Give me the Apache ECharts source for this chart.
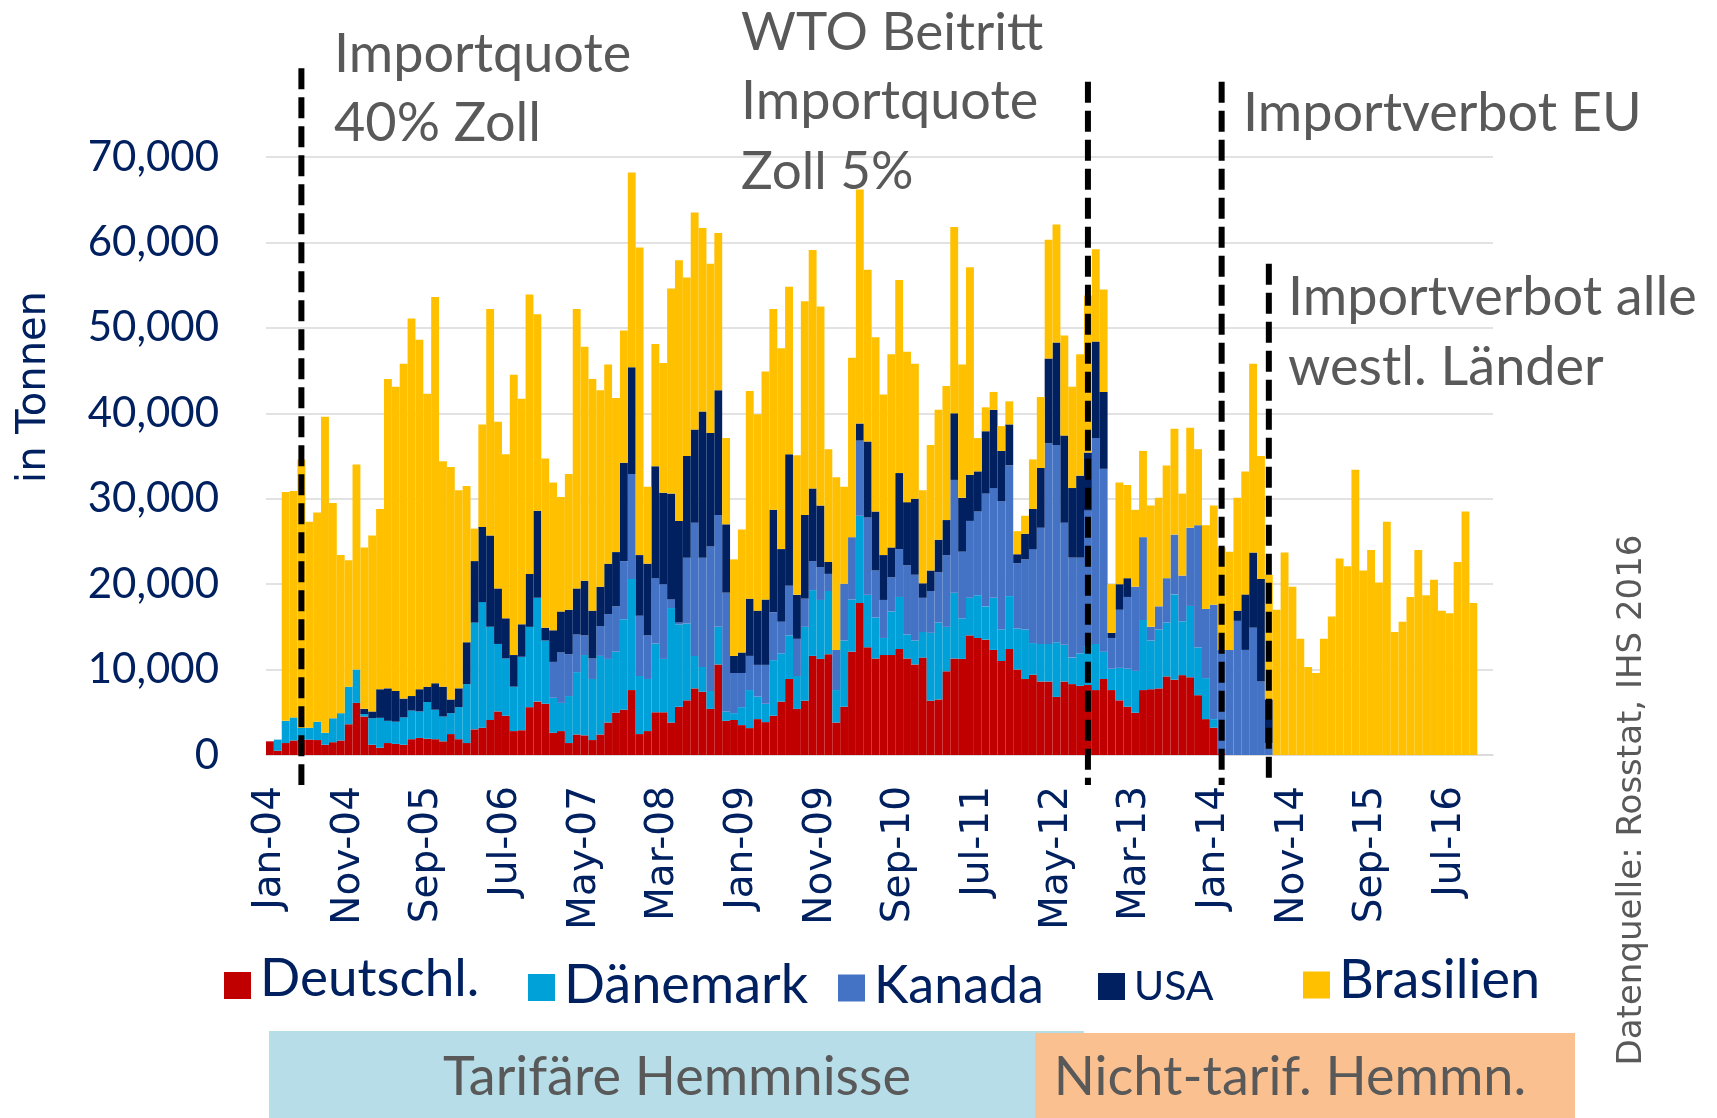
<!DOCTYPE html>
<html><head><meta charset="utf-8">
<script src="https://cdn.jsdelivr.net/npm/echarts@6/dist/echarts.min.js"></script>
<style>html,body{margin:0;padding:0;background:#fff}#c{width:1717px;height:1118px}</style>
</head><body><div id="c"></div>
<script>
// ---------- categories ----------
const MONTHS = ['Jan','Feb','Mar','Apr','May','Jun','Jul','Aug','Sep','Oct','Nov','Dec'];
const YEARS = ['04','05','06','07','08','09','10','11','12','13','14','15','16'];
const CATEGORIES = [];
YEARS.forEach(y => MONTHS.forEach(m => CATEGORIES.push(m + '-' + y)));

// ---------- series values (tonnes) ----------
const DEUTSCHL = [
1600,500,1400,1700,1800,1800,1750,1200,1500,1700,
3600,6100,4500,1200,850,1400,1300,1200,1850,2000,
1900,1850,1600,2450,1850,1400,3000,3200,4100,5100,
4600,2800,2900,5600,6250,6000,2600,2800,1400,2400,
2300,1750,2400,3800,4950,5300,7600,2450,2800,5000,
5000,3800,5650,6400,7800,7400,5400,10600,4000,4100,
3500,3150,4200,3850,4600,6250,8900,5400,6350,11600,
11250,11800,3800,5650,12100,17800,12600,11300,11700,11700,
12400,11300,10600,11400,6350,6500,9800,11300,11250,14000,
13700,13500,12300,11000,12400,10000,8900,9400,8600,8600,
6800,8600,8300,8100,8200,7600,8900,7600,6400,5650,
4950,7600,7700,7800,9200,8800,9350,9100,7000,4200,
3200,200,0,0,0,0,0,0,0,0,
0,0,0,0,0,0,0,0,0,0,
0,0,0,0,0,0,0,0,0,0,
0,0,0,0,null,null];

const DAENEMARK = [
0,1300,2600,2700,1400,1400,2150,1400,2800,3200,
4400,3900,300,3100,3500,2600,2600,3200,3350,3100,
4300,3450,2900,2450,3750,6900,12500,14700,10900,7900,
6700,5200,8600,9400,12150,7400,4100,3300,5500,7300,
9400,7150,9200,7450,7150,10600,13000,6800,6100,8050,
6250,13400,9650,9000,3800,2900,2100,4400,1100,800,
2100,4450,2650,2150,6500,5650,5100,3850,8650,7700,
6900,7400,3800,7750,6100,10200,6150,4800,2000,5100,
6100,2800,2800,3000,7950,9000,5200,7700,4750,4400,
5000,3900,6100,3700,6200,4800,5800,3700,4400,4400,
6400,4300,3100,3800,4500,5400,3200,2500,3800,4450,
4900,8200,5700,6900,6300,10000,6300,8350,5600,4800,
1000,0,0,0,0,0,0,0,0,0,
0,0,0,0,0,0,0,0,0,0,
0,0,0,0,0,0,0,0,0,0,
0,0,0,0,null,null];

const KANADA = [
0,0,0,0,0,0,0,0,0,0,
0,0,0,0,0,0,0,0,0,0,
0,0,0,0,0,0,0,0,0,0,
0,0,0,0,0,0,4200,5900,4900,4400,
2300,2400,3500,5250,5300,6800,12300,7050,5100,7650,
8750,1000,200,7700,15600,12800,16900,13100,13900,4700,
4000,4000,3700,4550,5600,3700,5800,4350,3300,3400,
3850,2000,4700,6650,7300,8800,9050,5500,4450,4000,
5600,8100,7700,4000,4900,5900,8400,13200,7800,9000,
9800,13200,12850,15000,15300,7650,8200,11000,13600,23500,
23100,14300,11700,11200,15900,24100,21400,3600,6800,8400,
9850,9700,1600,2700,5200,7000,5350,9150,14300,8100,
13400,12100,12300,15700,12300,14900,8600,1400,0,0,
0,0,0,0,0,0,0,0,0,0,
0,0,0,0,0,0,0,0,0,0,
0,0,0,0,null,null];

const USA = [
0,0,0,0,0,0,0,0,0,0,
0,0,600,800,3350,3800,3600,2200,1700,2600,
1800,3100,3500,1600,2200,4900,7200,8800,10700,6500,
4700,3700,3800,6200,10200,1500,3700,4800,5200,5400,
6400,5600,4600,5900,6350,11500,12500,7100,8400,13100,
10700,12400,11900,11900,10900,17100,13300,14600,8000,2000,
2400,6700,6350,7650,12000,8500,15400,5150,9800,8500,
7200,1400,0,0,0,2000,8900,6900,5250,3500,
8900,7400,8900,1700,2400,3800,4100,7800,6300,5400,
4700,7300,9150,5900,4800,1050,3000,4700,7000,9900,
12000,10200,8150,9600,6800,11300,9000,600,3000,2200,
0,0,0,0,0,0,0,0,0,0,
0,0,0,1200,6500,8800,12000,5100,0,0,
0,0,0,0,0,0,0,0,0,0,
0,0,0,0,0,0,0,0,0,0,
0,0,0,0,null,null];

const BRASILIEN = [
0,0,26800,26500,31400,24100,24500,37000,25200,18500,
14800,24000,18900,20600,21100,36200,35600,39200,44200,40900,
34300,45200,26400,27200,23200,18300,3800,12000,26500,19500,
19200,32800,26400,32700,23000,19800,17300,13400,15900,32700,
27400,27100,23000,23300,18050,15500,22800,36000,9000,14300,
15200,24000,30500,20900,25400,21500,19800,18400,10100,11300,
14400,24300,23000,26700,23500,23500,19600,16350,25000,27900,
23300,13200,20200,11350,21000,27400,20100,20400,18800,22600,
22600,17600,15800,10900,14700,15200,15700,21800,15600,24300,
3900,2800,2100,2900,2700,2700,2100,5800,8300,13900,
13800,11700,11850,14200,18400,10800,12000,5700,11900,10900,
9000,10100,14200,12700,13200,12400,9600,11700,8900,9800,
11600,12000,11500,13200,14400,22100,14400,14600,17000,23700,
19700,13600,10300,9600,13600,16200,23000,22100,33400,21600,
24000,20200,27300,14400,15600,18500,24000,18700,20500,16900,
16600,22600,28500,17800,null,null];

const SERIES_NAMES = ['Deutschl.','Dänemark','Kanada','USA','Brasilien'];
const SERIES_DATA = [DEUTSCHL, DAENEMARK, KANADA, USA, BRASILIEN];
const SERIES_COLORS = ['#C00000','#00A0D8','#4472C4','#002060','#FFC000'];

const Y_TICKS = [0,10000,20000,30000,40000,50000,60000,70000];

// event lines: category, top value, bottom value
const EVENT_CATS = ['May-04','Sep-12','Feb-14','Aug-14'];
const EVENT_TOPS = [80400, 78800, 78800, 57500];
const EVENT_BOTTOM = -3500;

// ---------- chart ----------
const CAL = 'Lato, "Open Sans", sans-serif';
const VER = '"DejaVu Sans", Verdana, sans-serif';
const NAVY = '#002060', GRAY = '#595959';

const chart = echarts.init(document.getElementById('c'), null, {renderer: 'canvas'});

const LEG_LEFT = [219, 523, 833, 1093, 1298];
const LEG_TOP = [947, 954, 955, 961, 949];
const LEG_SIZE = [53, 54, 52, 41, 54];
const LEG_PAD = [[0,0,14,4],[0,0,3,4],[0,0,4,4],[0,0,0,4],[0,0,8,4]];

const option = {
  animation: false,
  backgroundColor: '#fff',
  grid: {left: 266, right: 224, top: 157, bottom: 363},
  xAxis: {
    type: 'category', data: CATEGORIES, boundaryGap: true,
    axisLine: {show: true, lineStyle: {color: '#D9D9D9', width: 1.5}},
    axisTick: {show: false},
    axisLabel: {interval: 9, rotate: 90, margin: 31, fontFamily: VER, fontSize: 39, color: NAVY}
  },
  yAxis: {
    type: 'value', min: Y_TICKS[0], max: Y_TICKS[Y_TICKS.length - 1], interval: 10000,
    axisLine: {show: false}, axisTick: {show: false},
    splitLine: {lineStyle: {color: '#D9D9D9', width: 1.5}},
    axisLabel: {margin: 47, fontFamily: CAL, fontSize: 42, color: NAVY,
      formatter: v => String(v).replace(/\B(?=(\d{3})+(?!\d))/g, ',')}
  },
  legend: SERIES_NAMES.map((n, i) => ({
    data: [n], left: LEG_LEFT[i], top: LEG_TOP[i], icon: 'rect', itemWidth: 27, itemHeight: 27,
    selectedMode: false,
    formatter: name => '{t|' + name + '}',
    textStyle: {fontFamily: CAL, fontSize: LEG_SIZE[i], color: NAVY,
      rich: {t: {fontFamily: CAL, fontSize: LEG_SIZE[i], color: NAVY, padding: LEG_PAD[i]}}}
  })),
  series: SERIES_NAMES.map((n, i) => ({
    name: n, type: 'bar', stack: 'total', data: SERIES_DATA[i],
    barCategoryGap: '0%', itemStyle: {color: SERIES_COLORS[i]},
    emphasis: {disabled: true}
  }))
};
chart.setOption(option);

// ---------- annotations ----------
const graphics = [];
graphics.push({type: 'rect', shape: {x: 269, y: 1031, width: 815, height: 90}, style: {fill: '#B7DDE8'}, z: 1});
graphics.push({type: 'rect', shape: {x: 1035, y: 1033, width: 540, height: 90}, style: {fill: '#FAC090'}, z: 2});

function txt(t, x, y, size, color, family, align, rot) {
  graphics.push({type: 'text', x: x, y: y, rotation: rot || 0, z: 10,
    style: {text: t, fill: color, fontSize: size, fontFamily: family,
      textAlign: align || 'left', align: align || 'left',
      textVerticalAlign: 'middle', verticalAlign: 'middle'}});
}
txt('Tarifäre Hemmnisse', 677, 1078, 54, GRAY, CAL, 'center');
txt('Nicht-tarif. Hemmn.', 1290, 1078, 54, GRAY, CAL, 'center');

txt('Importquote', 334, 55, 54, GRAY, CAL);
txt('40% Zoll', 334, 124, 54, GRAY, CAL);
txt('WTO Beitritt', 741, 33, 53, GRAY, CAL);
txt('Importquote', 741, 102, 54, GRAY, CAL);
txt('Zoll 5%', 741, 172, 53, GRAY, CAL);
txt('Importverbot EU', 1243, 114, 54, GRAY, CAL);
txt('Importverbot alle', 1288, 298, 54, GRAY, CAL);
txt('westl. Länder', 1288, 368, 54, GRAY, CAL);

txt('in Tonnen', 35, 387, 40, NAVY, VER, 'center', Math.PI / 2);
txt('Datenquelle: Rosstat, IHS 2016', 1632, 800, 34, GRAY, VER, 'center', Math.PI / 2);

EVENT_CATS.forEach((c, i) => {
  const x = chart.convertToPixel({xAxisIndex: 0}, c);
  const y1 = chart.convertToPixel({yAxisIndex: 0}, EVENT_TOPS[i]);
  const y2 = chart.convertToPixel({yAxisIndex: 0}, EVENT_BOTTOM);
  graphics.push({type: 'line', z: 20, shape: {x1: x, y1: y1, x2: x, y2: y2},
    style: {stroke: '#000', lineWidth: 6, lineDash: [21, 8]}});
});

chart.setOption({graphic: graphics});
</script>
</body></html>
